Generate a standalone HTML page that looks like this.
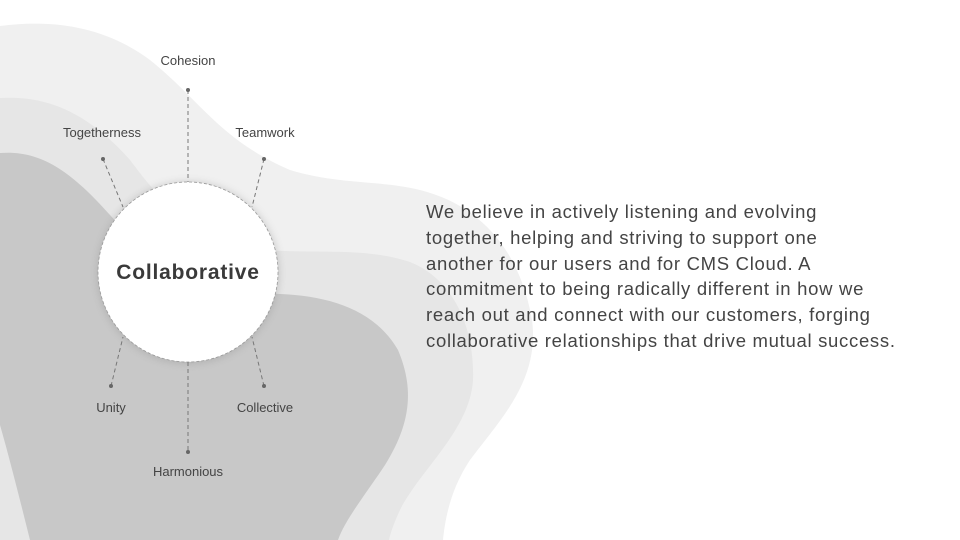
<!DOCTYPE html>
<html><head><meta charset="utf-8"><style>
html,body{margin:0;padding:0;background:#fff}
body{width:960px;height:540px;overflow:hidden;position:relative;font-family:"Liberation Sans",sans-serif}
svg{position:absolute;left:0;top:0}
.p{position:absolute;left:426px;top:199px;width:530px;font-size:18.5px;line-height:25.8px;color:#444;white-space:nowrap;letter-spacing:0.7px}
</style></head><body>
<svg width="960" height="540" viewBox="0 0 960 540">
<defs><filter id="sh" x="-30%" y="-30%" width="160%" height="160%"><feGaussianBlur stdDeviation="4"/></filter></defs>
<path d="M0,26 C60,18 110,30 150,60 C200,100 220,140 290,170 C340,185 380,180 420,190 C480,205 520,250 532,320 C540,380 500,420 470,460 C450,490 445,520 443,540 L0,540 Z" fill="#f0f0f0"/>
<path d="M0,98 C50,95 90,115 130,160 C160,200 190,235 250,248 C300,256 360,245 410,262 C455,280 475,330 473,380 C470,430 420,470 400,510 C393,525 390,535 389,540 L0,540 Z" fill="#e6e6e6"/>
<path d="M0,153 C40,150 70,170 110,215 C150,260 200,290 280,294 C330,296 375,310 398,350 C415,390 410,425 385,465 C365,495 345,520 338,540 L30,540 C20,500 10,460 0,425 Z" fill="#c8c8c8"/>
<circle cx="188" cy="273" r="91" fill="#9a9a9a" opacity="0.45" filter="url(#sh)"/>
<circle cx="188" cy="272" r="90" fill="#fff" stroke="#999" stroke-width="0.8" stroke-dasharray="3,2"/>
<g stroke="#777" stroke-width="1" stroke-dasharray="4,3" fill="none">
<line x1="188" y1="90" x2="188" y2="182"/>
<line x1="103" y1="159" x2="123" y2="207"/>
<line x1="264" y1="159" x2="252" y2="207"/>
<line x1="111" y1="386" x2="123" y2="337"/>
<line x1="264" y1="386" x2="252" y2="337"/>
<line x1="188" y1="362" x2="188" y2="452"/>
</g>
<g fill="#666">
<circle cx="188" cy="90" r="2"/><circle cx="103" cy="159" r="2"/><circle cx="264" cy="159" r="2"/>
<circle cx="111" cy="386" r="2"/><circle cx="264" cy="386" r="2"/><circle cx="188" cy="452" r="2"/>
</g>
<g font-family="Liberation Sans, sans-serif" font-size="13" fill="#444" text-anchor="middle">
<text x="188" y="65">Cohesion</text>
<text x="102" y="137">Togetherness</text>
<text x="265" y="137">Teamwork</text>
<text x="111" y="412">Unity</text>
<text x="265" y="412">Collective</text>
<text x="188" y="476">Harmonious</text>
</g>
<text x="188" y="279" font-family="Liberation Sans, sans-serif" font-size="21" font-weight="bold" fill="#3a3a3a" text-anchor="middle" letter-spacing="0.8">Collaborative</text>
</svg>
<div class="p">We believe in actively listening and evolving<br>together, helping and striving to support one<br>another for our users and for CMS Cloud. A<br>commitment to being radically different in how we<br>reach out and connect with our customers, forging<br>collaborative relationships that drive mutual success.</div>
</body></html>
